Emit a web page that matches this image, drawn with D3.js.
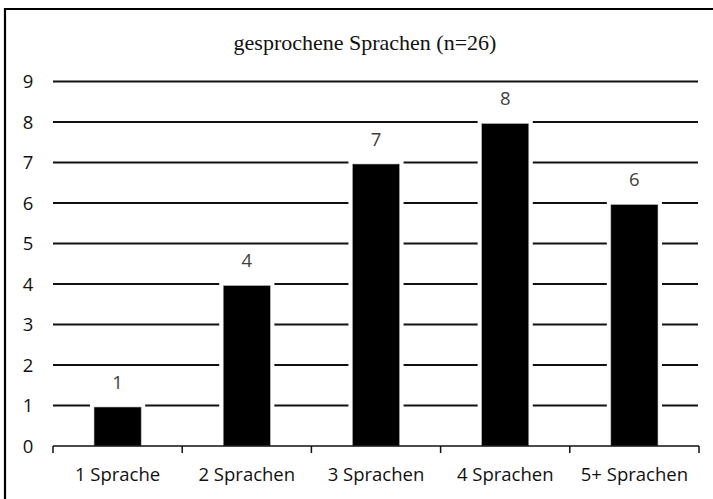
<!DOCTYPE html>
<html>
<head>
<meta charset="utf-8">
<script src="https://cdn.jsdelivr.net/npm/d3@7"></script>
<style>
  body { margin: 0; background: #fff; }
  svg { display: block; }
</style>
</head>
<body>
<div id="chart"></div>
<script>
// Data
const categories = ["1 Sprache", "2 Sprachen", "3 Sprachen", "4 Sprachen", "5+ Sprachen"];
const counts = [1, 4, 7, 8, 6];
const yTicks = [0, 1, 2, 3, 4, 5, 6, 7, 8, 9];
const title = "gesprochene Sprachen (n=26)";

const width = 713, height = 499;
const plotLeft = 53, plotRight = 699, plotTop = 81.5, plotBottom = 446;
const labelFont = "'Open Sans', sans-serif";

const svg = d3.select("#chart")
    .append("svg")
    .attr("width", width)
    .attr("height", height);

// frame (only top and left edges are visible)
svg.append("path")
    .attr("d", `M5,${height} V9 H${width}`)
    .attr("fill", "none")
    .attr("stroke", "#000")
    .attr("stroke-width", 2.2);

// title
svg.append("text")
    .attr("x", 365)
    .attr("y", 50)
    .attr("text-anchor", "middle")
    .style("font-family", "'Liberation Serif', 'Times New Roman', serif")
    .style("font-size", "22px")
    .attr("fill", "#111")
    .text(title);

// scales: bars centred in equal category slots
const x = d3.scaleBand()
    .domain(categories)
    .range([plotLeft, plotRight])
    .paddingInner(0.635)
    .paddingOuter(0.3175);

const y = d3.scaleLinear()
    .domain([0, 9])
    .range([plotBottom, plotTop]);

// gridlines
svg.append("g")
    .selectAll("line")
    .data(yTicks.filter(d => d > 0))
    .join("line")
    .attr("x1", plotLeft)
    .attr("x2", plotRight - 1)
    .attr("y1", d => y(d))
    .attr("y2", d => y(d))
    .attr("stroke", "#111")
    .attr("stroke-width", 1.8);

// y tick labels
svg.append("g")
    .selectAll("text")
    .data(yTicks)
    .join("text")
    .attr("x", 28)
    .attr("y", d => y(d))
    .attr("dy", "0.36em")
    .attr("text-anchor", "middle")
    .style("font-family", labelFont)
    .style("font-size", "18.5px")
    .attr("fill", "#111")
    .text(d => d);

// bars: white gap around each bar cuts the gridlines
const bars = svg.append("g");
bars.selectAll("rect.gap")
    .data(counts)
    .join("rect")
    .attr("class", "gap")
    .attr("x", (d, i) => x(categories[i]) - 4)
    .attr("y", d => y(d) - 2)
    .attr("width", x.bandwidth() + 8)
    .attr("height", d => plotBottom - y(d) + 1)
    .attr("fill", "#fff");

bars.selectAll("rect.bar")
    .data(counts)
    .join("rect")
    .attr("class", "bar")
    .attr("x", (d, i) => x(categories[i]))
    .attr("y", d => y(d) + 1.5)
    .attr("width", x.bandwidth())
    .attr("height", d => plotBottom - y(d) - 1.5)
    .attr("fill", "#000")
    .attr("stroke", "#bbb")
    .attr("stroke-width", 0.6);

// value labels
svg.append("g")
    .selectAll("text")
    .data(counts)
    .join("text")
    .attr("x", (d, i) => x(categories[i]) + x.bandwidth() / 2)
    .attr("y", d => y(d) - 17)
    .attr("text-anchor", "middle")
    .style("font-family", labelFont)
    .style("font-size", "18.5px")
    .attr("fill", "#404040")
    .text(d => d);

// x axis with ticks at category boundaries
const step = (plotRight - plotLeft) / categories.length;
const xAxis = svg.append("g").attr("transform", `translate(0,${plotBottom})`);
xAxis.append("line")
    .attr("x1", plotLeft)
    .attr("x2", plotRight)
    .attr("stroke", "#111")
    .attr("stroke-width", 1.5);
xAxis.selectAll("line.tick")
    .data(d3.range(categories.length + 1))
    .join("line")
    .attr("class", "tick")
    .attr("x1", i => plotLeft + i * step)
    .attr("x2", i => plotLeft + i * step)
    .attr("y1", 0)
    .attr("y2", 7)
    .attr("stroke", "#111")
    .attr("stroke-width", 1.5);
xAxis.selectAll("text")
    .data(categories)
    .join("text")
    .attr("x", d => x(d) + x.bandwidth() / 2)
    .attr("y", 35)
    .attr("text-anchor", "middle")
    .style("font-family", labelFont)
    .style("font-size", "18.5px")
    .attr("fill", "#111")
    .text(d => d);
</script>
</body>
</html>
